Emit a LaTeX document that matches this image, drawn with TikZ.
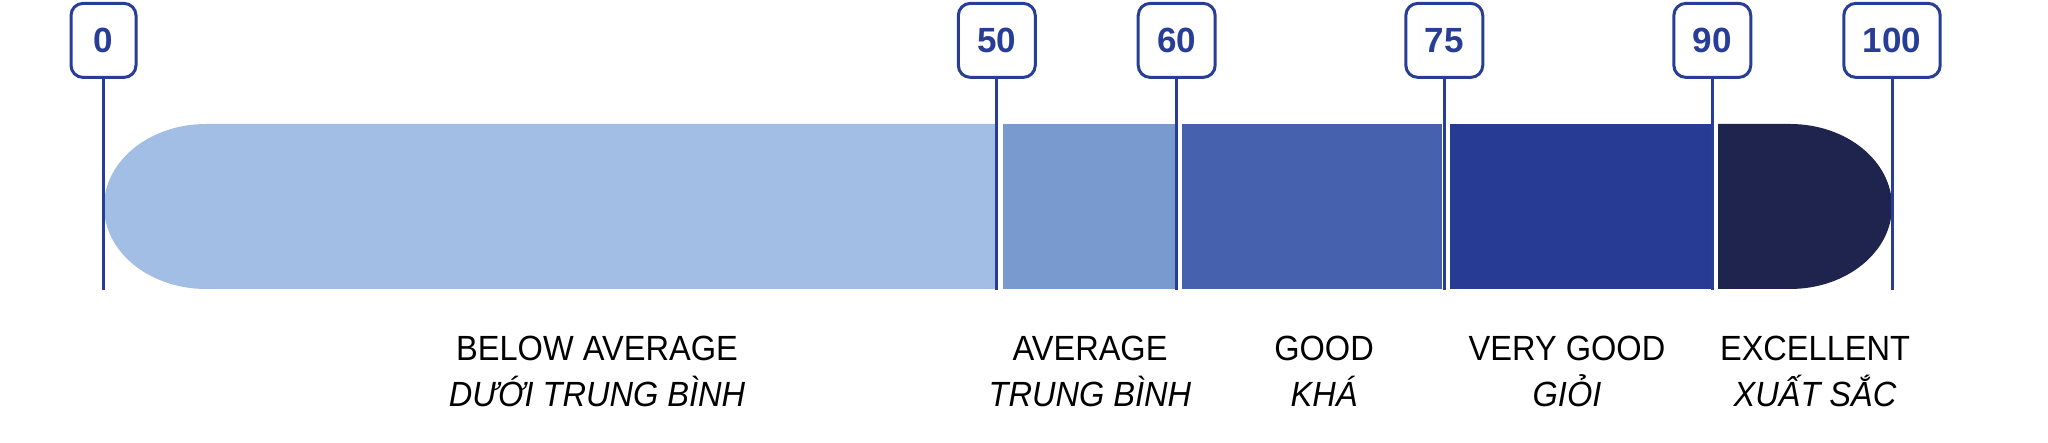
\documentclass[tikz,border=0pt]{standalone}
\usepackage{fontspec}
\setmainfont{Liberation Sans}
\newfontfamily\gradefont{Liberation Sans}[FakeStretch=0.93]

\definecolor{markblue}{HTML}{283E96}
\definecolor{belowfill}{HTML}{A3BEE4}
\definecolor{avgfill}{HTML}{789ACF}
\definecolor{goodfill}{HTML}{4661AD}
\definecolor{vgoodfill}{HTML}{273B94}
\definecolor{excfill}{HTML}{1E244D}

\begin{document}
\begin{tikzpicture}
        [x=1pt, y=1pt,
        scorebox/.style={draw=markblue, line width=3pt, rounded corners=12pt, fill=white,
            minimum width=65pt, minimum height=74pt, inner xsep=19pt, inner ysep=0pt,
            text=markblue, font=\bfseries\fontsize{35}{35}\selectfont},
        scoreline/.style={markblue, line width=3pt},
        grade/.style={anchor=base, inner sep=0pt, font=\gradefont\fontsize{35}{40}\selectfont},
        gradevi/.style={grade, font=\gradefont\itshape\fontsize{35}{40}\selectfont}]

        \useasboundingbox (0,0) rectangle (2048,443);

        % --- Bar segments (white gaps between them) ---
        \fill[belowfill] (995,319) -- (206,319)
            arc[start angle=90, end angle=270, x radius=102pt, y radius=82.5pt]
            -- (995,154) -- cycle;
        \fill[avgfill] (1002.6,154) rectangle (1174.5,319);
        \fill[goodfill] (1181.6,154) rectangle (1442.3,319);
        \fill[vgoodfill] (1449.9,154) rectangle (1710.5,319);
        \fill[excfill] (1718,319) -- (1790,319)
            arc[start angle=90, end angle=-90, x radius=102pt, y radius=82.5pt]
            -- (1718,154) -- cycle;

        % --- Score boxes ---
        \node[scorebox] (s0) at (103.5,402.6) {0};
        \node[scorebox] (s50) at (996.8,402.6) {50};
        \node[scorebox] (s60) at (1176.7,402.6) {60};
        \node[scorebox] (s75) at (1444.3,402.6) {75};
        \node[scorebox] (s90) at (1712.3,402.6) {90};
        \node[scorebox] (s100) at (1892,402.6) {100};

        % line ends at the bottom of the bar
        \coordinate (e0) at (103.5,152.5);
        \coordinate (e50) at (996.8,152.5);
        \coordinate (e60) at (1176.7,152.5);
        \coordinate (e75) at (1444.3,152.5);
        \coordinate (e90) at (1712.3,152.5);
        \coordinate (e100) at (1892,152.5);

        \draw[scoreline] (s0) -- (e0);
        \draw[scoreline] (s50) -- (e50);
        \draw[scoreline] (s60) -- (e60);
        \draw[scoreline] (s75) -- (e75);
        \draw[scoreline] (s90) -- (e90);
        \draw[scoreline] (s100) -- (e100);

        % --- Grade labels ---
        \node[grade] (below) at (597,82) {BELOW AVERAGE};
        \node[gradevi] (belowvi) at (597,36) {DƯỚI TRUNG BÌNH};
        \node[grade] (avg) at (1090,82) {AVERAGE};
        \node[gradevi] (avgvi) at (1090,36) {TRUNG BÌNH};
        \node[grade] (good) at (1324,82) {GOOD};
        \node[gradevi] (goodvi) at (1324,36) {KHÁ};
        \node[grade] (vgood) at (1567,82) {VERY GOOD};
        \node[gradevi] (vgoodvi) at (1567,36) {GIỎI};
        \node[grade] (exc) at (1815,82) {EXCELLENT};
        \node[gradevi] (excvi) at (1815,36) {XUẤT SẮC};
    \end{tikzpicture}
\end{document}
